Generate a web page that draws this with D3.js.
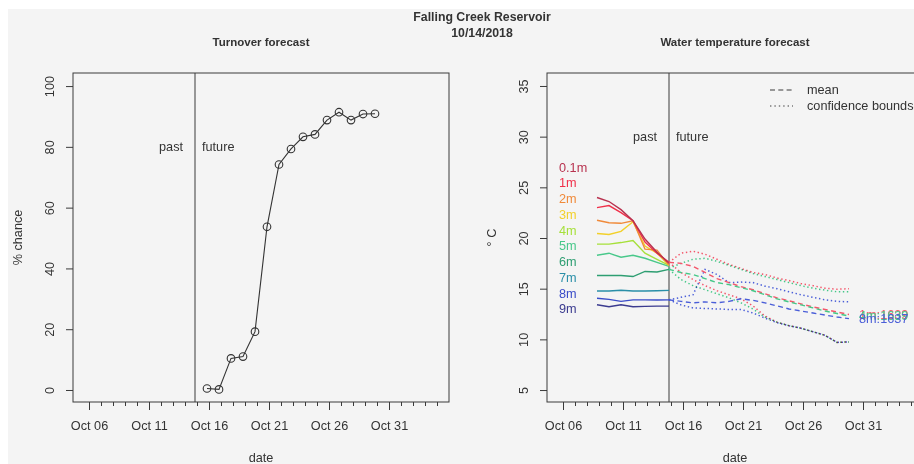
<!DOCTYPE html>
<html>
<head>
<meta charset="utf-8">
<script src="https://cdn.jsdelivr.net/npm/d3@7/dist/d3.min.js"></script>
<style>
  body { margin: 0; background: #ffffff; }
  svg { display: block; }
  text { font-family: "Liberation Sans", Arial, Helvetica, sans-serif; fill: #333; }
</style>
</head>
<body>
<svg id="chart" width="914" height="464"></svg>
<script>
// ---- data ----------------------------------------------------------------
const mainTitle = ["Falling Creek Reservoir", "10/14/2018"];
const forecastStart = "2018-10-15";            // first forecast day (UTC)
const utcOffsetHours = -4;                     // dates are displayed in EDT

// Turnover forecast: % chance per forecast day
const turnoverDates = ["2018-10-16","2018-10-17","2018-10-18","2018-10-19","2018-10-20",
  "2018-10-21","2018-10-22","2018-10-23","2018-10-24","2018-10-25","2018-10-26",
  "2018-10-27","2018-10-28","2018-10-29","2018-10-30"];
const turnoverPct = [0.5, 0.2, 10.4, 11.0, 19.2, 53.7, 74.2, 79.3, 83.3, 84.1, 88.8, 91.4, 88.8, 90.8, 90.9];
const pctTicks = [0, 20, 40, 60, 80, 100];

// Observed water temperature by depth (°C)
const obsDates = ["2018-10-09","2018-10-10","2018-10-11","2018-10-12","2018-10-13","2018-10-14","2018-10-15"];
const depths = ["0.1m","1m","2m","3m","4m","5m","6m","7m","8m","9m"];
const depthColors = ["#b8324f","#f0304a","#f08a3a","#f2d02a","#a6e03a","#48c88a","#2e9e72","#2a8fa8","#3a4cc8","#3b3b8f"];
const obsTemp = [
  [24.0, 23.6, 22.8, 21.7, 19.9, 18.6, 17.5],
  [23.0, 23.2, 22.5, 21.7, 19.6, 18.5, 17.6],
  [21.75, 21.5, 21.45, 21.7, 18.9, 18.8, 17.3],
  [20.45, 20.35, 20.65, 21.6, 19.2, 18.5, 17.3],
  [19.4, 19.4, 19.55, 19.75, 18.5, 17.9, 17.3],
  [18.3, 18.5, 18.1, 18.3, 18.0, 17.6, 17.2],
  [16.3, 16.3, 16.3, 16.2, 16.7, 16.65, 16.9],
  [14.77, 14.77, 14.85, 14.77, 14.77, 14.8, 14.83],
  [14.05, 13.95, 13.75, 13.9, 13.9, 13.88, 13.9],
  [13.42, 13.22, 13.42, 13.22, 13.25, 13.28, 13.28]
];
const tempTicks = [5, 10, 15, 20, 25, 30, 35];

// Forecast water temperature (°C): ensemble mean and confidence bounds
const fcDates = ["2018-10-15","2018-10-16","2018-10-17","2018-10-18","2018-10-19","2018-10-20",
  "2018-10-21","2018-10-22","2018-10-23","2018-10-24","2018-10-25","2018-10-26",
  "2018-10-27","2018-10-28","2018-10-29","2018-10-30"];
const fcLabels = ["1m:1639", "4m:1639", "8m:1637"];
const fcColors = ["#f4566a", "#45c888", "#4a5ed8"];
const fcMean = [
  [17.6, 17.5, 17.2, 16.6, 16.0, 15.6, 15.2, 14.9, 14.5, 14.1, 13.8, 13.5, 13.2, 12.95, 12.7, 12.45],
  [16.9, 16.6, 16.4, 16.0, 15.6, 15.4, 15.1, 14.8, 14.4, 14.0, 13.7, 13.4, 13.1, 12.8, 12.55, 12.3],
  [13.9, 13.75, 13.6, 13.7, 13.6, 13.75, 14.0, 13.85, 13.6, 13.3, 13.0, 12.8, 12.6, 12.4, 12.2, 12.05]
];
const fcUpper = [
  [17.6, 18.5, 18.7, 18.4, 17.9, 17.4, 17.0, 16.6, 16.4, 16.05, 15.8, 15.5, 15.3, 15.05, 14.95, 15.0],
  [17.0, 17.5, 17.9, 18.0, 17.7, 17.3, 16.9, 16.5, 16.2, 15.9, 15.6, 15.3, 15.05, 14.85, 14.7, 14.7],
  [13.9, 14.15, 14.4, 16.9, 16.4, 15.6, 15.65, 15.6, 15.25, 15.0, 14.7, 14.4, 14.15, 13.9, 13.75, 13.7]
];
const fcLower = [
  [17.6, 16.6, 15.9, 15.3, 14.8, 14.4, 14.0, 13.3, 12.3, 11.7, 11.35, 11.1, 10.75, 10.4, 9.7, 9.75],
  [16.9, 15.9, 15.3, 14.9, 14.5, 14.1, 13.6, 13.0, 12.2, 11.7, 11.35, 11.1, 10.75, 10.4, 9.7, 9.75],
  [13.9, 13.4, 13.1, 13.05, 13.0, 12.95, 12.95, 12.6, 12.1, 11.65, 11.35, 11.1, 10.75, 10.4, 9.7, 9.75]
];

// Date axis: daily minor ticks, labelled every 5 days
const axisDays = ["2018-10-06", "2018-11-05"];
const labelledDays = ["2018-10-06","2018-10-11","2018-10-16","2018-10-21","2018-10-26","2018-10-31"];

// ---- helpers ---------------------------------------------------------------
const svg = d3.select("#chart");
const INK = "#3a3a3a";
const FONT = 12.7;

// convert a UTC date string to local wall-clock time (kept in a UTC Date)
const toLocal = s => new Date(new Date(s + "T00:00:00Z").getTime() + utcOffsetHours * 3600e3);
const asDay = s => new Date(s + "T00:00:00Z");

svg.append("rect").attr("x", 8).attr("y", 9).attr("width", 906).attr("height", 455).attr("fill", "#f4f4f4");

// title
mainTitle.forEach((t, i) => {
  svg.append("text").attr("x", 482).attr("y", 17 + i * 16).attr("dy", "0.35em")
    .attr("text-anchor", "middle").style("font-weight", "bold").style("font-size", "12.3px").text(t);
});

const plotTop = 73, plotBottom = 402, plotWidth = 376;
const xDomain = [new Date("2018-10-04T16:00:00Z"), new Date("2018-11-05T00:00:00Z")];

function panel(left, title, yDomain, yTicks, yLabel) {
  const x = d3.scaleUtc().domain(xDomain).range([left, left + plotWidth]);
  const y = d3.scaleLinear().domain(yDomain).range([plotBottom, plotTop]);
  const g = svg.append("g");

  // subtitle
  g.append("text").attr("x", left + plotWidth / 2).attr("y", 42).attr("dy", "0.35em")
    .attr("text-anchor", "middle").style("font-weight", "bold").style("font-size", "11.5px").text(title);

  // x axis: minor then labelled ticks
  const days = d3.utcDay.range(asDay(axisDays[0]), asDay(axisDays[1]));
  const minor = g.append("g").attr("transform", `translate(0,${plotBottom})`)
    .call(d3.axisBottom(x).tickValues(days).tickSize(4).tickFormat(""));
  minor.select(".domain").remove();
  const major = g.append("g").attr("transform", `translate(0,${plotBottom})`)
    .call(d3.axisBottom(x).tickValues(labelledDays.map(asDay)).tickSize(8)
      .tickFormat(d3.utcFormat("%b %d")));
  major.select(".domain").remove();
  major.selectAll("text").attr("y", 24).attr("dy", "0.35em").style("font-size", FONT + "px").attr("fill", "#333");
  g.selectAll(".tick line").attr("stroke", INK);

  // y axis with labels parallel to the axis
  const ya = g.append("g").attr("transform", `translate(${left},0)`)
    .call(d3.axisLeft(y).tickValues(yTicks).tickSize(7));
  ya.select(".domain").remove();
  ya.selectAll(".tick line").attr("stroke", INK);
  ya.selectAll("text").attr("x", 0).attr("y", 0).attr("dy", "0.35em")
    .attr("text-anchor", "middle").attr("transform", "translate(-23,0) rotate(-90)")
    .style("font-size", FONT + "px").attr("fill", "#333");

  // frame
  g.append("rect").attr("x", left).attr("y", plotTop).attr("width", plotWidth)
    .attr("height", plotBottom - plotTop).attr("fill", "none").attr("stroke", INK).attr("stroke-width", 1);

  // axis titles
  g.append("text").attr("x", left + plotWidth / 2).attr("y", 458).attr("dy", "0.35em")
    .attr("text-anchor", "middle").style("font-size", FONT + "px").text("date");
  g.append("text").attr("transform", `translate(${left - 55},${(plotTop + plotBottom) / 2}) rotate(-90)`)
    .attr("dy", "0.35em").attr("text-anchor", "middle").style("font-size", FONT + "px").text(yLabel);

  // past / future divider
  const xNow = x(toLocal(forecastStart));
  g.append("line").attr("x1", xNow).attr("x2", xNow).attr("y1", plotTop).attr("y2", plotBottom)
    .attr("stroke", INK).attr("stroke-width", 1);

  return { x, y, g, xNow };
}

// ---- left panel: turnover -------------------------------------------------
const L = panel(73, "Turnover forecast", [-3.95, 104.3], pctTicks, "% chance");
L.g.append("text").attr("x", L.xNow - 12).attr("y", L.y(80)).attr("dy", "0.35em")
  .attr("text-anchor", "end").style("font-size", FONT + "px").text("past");
L.g.append("text").attr("x", L.xNow + 7).attr("y", L.y(80)).attr("dy", "0.35em")
  .style("font-size", FONT + "px").text("future");

const turnover = turnoverDates.map((d, i) => [L.x(toLocal(d)), L.y(turnoverPct[i])]);
L.g.append("path").attr("d", d3.line()(turnover)).attr("fill", "none")
  .attr("stroke", "#333").attr("stroke-width", 1.1);
L.g.selectAll("circle.pt").data(turnover).join("circle").attr("class", "pt")
  .attr("cx", d => d[0]).attr("cy", d => d[1]).attr("r", 3.8)
  .attr("fill", "none").attr("stroke", "#333").attr("stroke-width", 1.1);

// ---- right panel: water temperature ---------------------------------------
const R = panel(547, "Water temperature forecast", [3.82, 36.28], tempTicks, "° C");
svg.append("clipPath").attr("id", "plotclip").append("rect")
  .attr("x", 547).attr("y", plotTop).attr("width", plotWidth).attr("height", plotBottom - plotTop);

R.g.append("text").attr("x", R.xNow - 12).attr("y", R.y(30)).attr("dy", "0.35em")
  .attr("text-anchor", "end").style("font-size", FONT + "px").text("past");
R.g.append("text").attr("x", R.xNow + 7).attr("y", R.y(30)).attr("dy", "0.35em")
  .style("font-size", FONT + "px").text("future");

// depth labels
depths.forEach((dep, i) => {
  R.g.append("text").attr("x", 559).attr("y", R.y(27 - i * 14 / 9)).attr("dy", "0.35em")
    .style("fill", depthColors[i]).style("font-size", FONT + "px").text(dep);
});

const tLine = d3.line().x(d => R.x(d.t)).y(d => R.y(d.v));

// observed profiles, deepest first
for (let i = depths.length - 1; i >= 0; i--) {
  const pts = obsDates.map((d, j) => ({ t: toLocal(d), v: obsTemp[i][j] }));
  R.g.append("path").attr("d", tLine(pts)).attr("fill", "none")
    .attr("stroke", depthColors[i]).attr("stroke-width", 1.4);
}

// forecast bounds (dotted) and means (dashed); overlapping bounds darken
const fg = R.g.append("g").attr("clip-path", "url(#plotclip)").style("isolation", "isolate");
[fcUpper, fcLower].forEach(set => {
  set.forEach((vals, i) => {
    const pts = fcDates.map((d, j) => ({ t: toLocal(d), v: vals[j] }));
    fg.append("path").attr("d", tLine(pts)).attr("fill", "none")
      .style("mix-blend-mode", "multiply")
      .attr("stroke", fcColors[i]).attr("stroke-width", 1.5).attr("stroke-dasharray", "1.4,2.6");
  });
});
fcMean.forEach((vals, i) => {
  const pts = fcDates.map((d, j) => ({ t: toLocal(d), v: vals[j] }));
  fg.append("path").attr("d", tLine(pts)).attr("fill", "none")
    .attr("stroke", fcColors[i]).attr("stroke-width", 1.4).attr("stroke-dasharray", "5,3.5");
  R.g.append("text").attr("x", R.x(toLocal(fcDates[fcDates.length - 1])) + 10)
    .attr("y", R.y(vals[vals.length - 1])).attr("dy", "0.35em")
    .style("fill", fcColors[i]).style("font-size", FONT + "px").text(fcLabels[i]);
});

// legend
const legend = [["mean", "5,3.3"], ["confidence bounds", "1.4,3"]];
legend.forEach(([label, dash], i) => {
  const ly = 90 + i * 16;
  R.g.append("line").attr("x1", 770).attr("x2", 793).attr("y1", ly).attr("y2", ly)
    .attr("stroke", INK).attr("stroke-width", 1.2).attr("stroke-dasharray", dash);
  R.g.append("text").attr("x", 807).attr("y", ly).attr("dy", "0.35em")
    .style("font-size", FONT + "px").text(label);
});
</script>
</body>
</html>
